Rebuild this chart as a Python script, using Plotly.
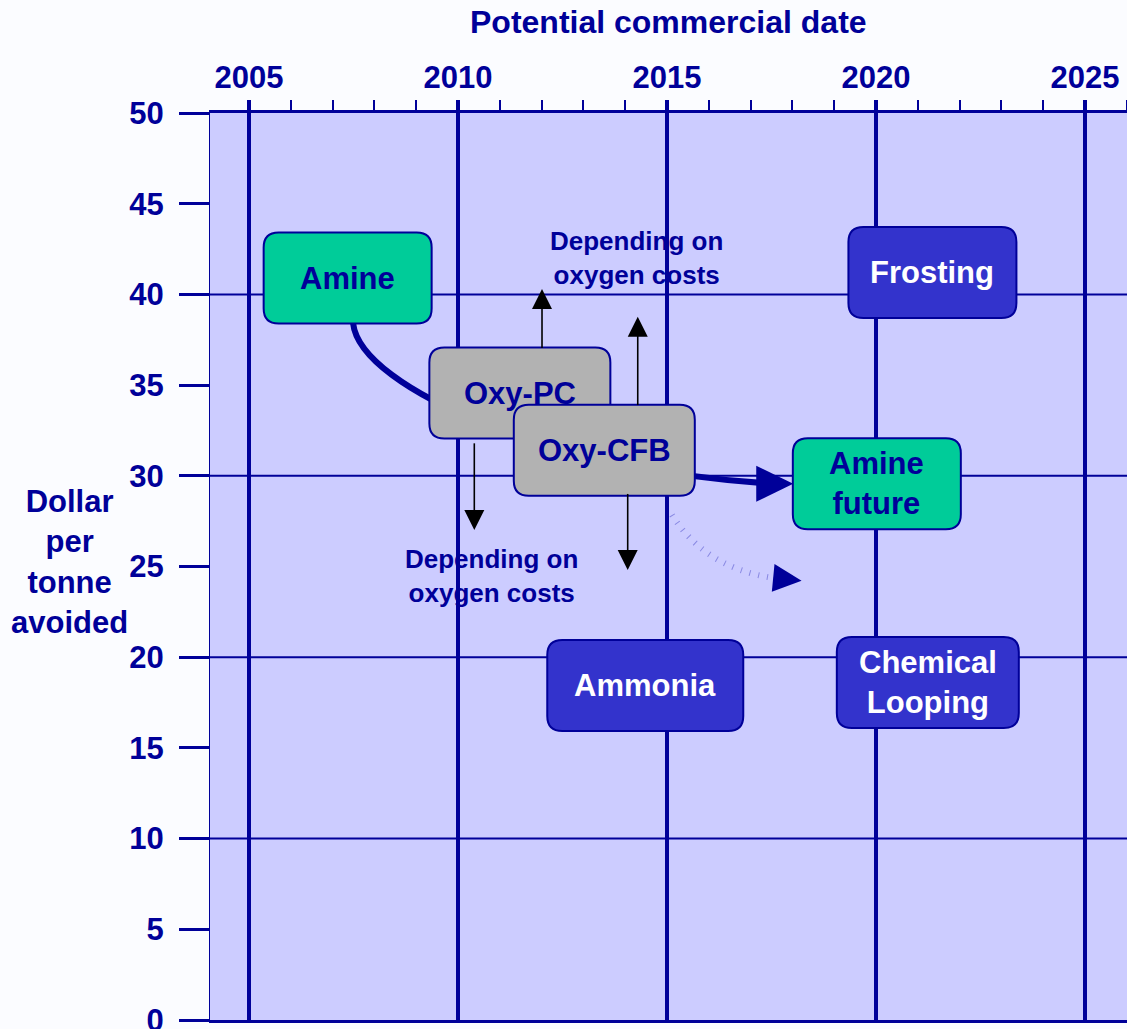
import math
import plotly.graph_objects as go

# ---------------------------------------------------------------- data
tech_labels = ["Amine", "Oxy-PC", "Oxy-CFB", "Amine<br>future",
               "Frosting", "Ammonia", "Chemical<br>Looping"]
tech_year = [2007.36, 2011.48, 2013.50, 2020.02, 2021.35, 2014.48, 2021.24]
tech_cost = [40.90, 34.56, 31.41, 29.56, 41.21, 18.44, 18.61]
tech_group = ["amine", "oxy", "oxy", "amine", "novel", "novel", "novel"]

# oxygen-price sensitivity of the oxy-fuel options (year, cost from -> cost to)
oxy_arrow_year = [2012.01, 2014.30, 2010.39, 2014.06]
oxy_arrow_from = [37.05, 33.90, 31.79, 29.00]
oxy_arrow_to = [40.30, 38.77, 27.01, 24.81]

oxy_note_text = "Depending on<br>oxygen costs"
oxy_note_year = [2014.27, 2010.79]
oxy_note_cost = [42.00, 24.45]

# expected cost path of amine scrubbing (cubic Bezier: start, c1, c2, end, tip)
amine_path_year = [2007.49, 2007.66, 2012.44, 2017.58, 2018.02]
amine_path_cost = [38.42, 34.73, 30.21, 29.56, 29.56]

# possible further reduction (quadratic Bezier: start, control, end, tip)
lower_path_year = [2015.12, 2015.91, 2017.54, 2018.22]
lower_path_cost = [27.84, 24.92, 24.37, 24.22]

x_tick_years = [2005, 2010, 2015, 2020, 2025]
y_tick_step = 5
y_grid_values = [10, 20, 30, 40]

# ---------------------------------------------------------------- style
NAVY = "#000099"
FONT = "Liberation Sans, Arial, sans-serif"
FILL = {"amine": "#00cc99", "oxy": "#b2b2b2", "novel": "#3333cc"}
TEXT = {"amine": NAVY, "oxy": NAVY, "novel": "#ffffff"}
BOX_W_PX = {"Amine": 168, "Oxy-PC": 181, "Oxy-CFB": 181, "Amine<br>future": 168,
            "Frosting": 168, "Ammonia": 196, "Chemical<br>Looping": 182}
BOX_H_PX = 91
CORNER_PX = 15

FIG_W, FIG_H = 1127, 1029
MARGIN = dict(l=210, r=0, t=113, b=9, pad=0, autoexpand=False)
X_RANGE = [2004.067, 2026.005]
Y_RANGE = [0, 50]
PX_PER_YEAR = (FIG_W - MARGIN["l"] - MARGIN["r"]) / (X_RANGE[1] - X_RANGE[0])
PX_PER_COST = (FIG_H - MARGIN["t"] - MARGIN["b"]) / (Y_RANGE[1] - Y_RANGE[0])


def px_to_year(px):
    return px / PX_PER_YEAR


def px_to_cost(px):
    return px / PX_PER_COST


def rounded_box(xc, yc, w_px, h_px, r_px):
    w, h = px_to_year(w_px), px_to_cost(h_px)
    rx, ry = px_to_year(r_px), px_to_cost(r_px)
    x0, x1 = xc - w / 2, xc + w / 2
    y0, y1 = yc - h / 2, yc + h / 2
    return (f"M{x0 + rx},{y0} L{x1 - rx},{y0} Q{x1},{y0} {x1},{y0 + ry} "
            f"L{x1},{y1 - ry} Q{x1},{y1} {x1 - rx},{y1} "
            f"L{x0 + rx},{y1} Q{x0},{y1} {x0},{y1 - ry} "
            f"L{x0},{y0 + ry} Q{x0},{y0} {x0 + rx},{y0} Z")


def head(base, tip, width_px):
    """Triangle arrowhead from a base point to a tip, in data units."""
    bx, by = base[0] * PX_PER_YEAR, base[1] * PX_PER_COST
    tx, ty = tip[0] * PX_PER_YEAR, tip[1] * PX_PER_COST
    dx, dy = tx - bx, ty - by
    n = math.hypot(dx, dy)
    nx, ny = -dy / n * width_px / 2, dx / n * width_px / 2
    p1 = ((bx + nx) / PX_PER_YEAR, (by + ny) / PX_PER_COST)
    p2 = ((bx - nx) / PX_PER_YEAR, (by - ny) / PX_PER_COST)
    return f"M{tip[0]},{tip[1]} L{p1[0]},{p1[1]} L{p2[0]},{p2[1]} Z"


def back_off(tail, tip, length_px):
    """Point lying length_px before the tip on the tail->tip segment."""
    dx = (tip[0] - tail[0]) * PX_PER_YEAR
    dy = (tip[1] - tail[1]) * PX_PER_COST
    n = math.hypot(dx, dy)
    return (tip[0] - dx / n * length_px / PX_PER_YEAR,
            tip[1] - dy / n * length_px / PX_PER_COST)


shapes = []

# horizontal grid every 10 $/t
for v in y_grid_values:
    shapes.append(dict(type="line", xref="paper", x0=0, x1=1, yref="y", y0=v, y1=v,
                       line=dict(color=NAVY, width=2), layer="below"))

# amine cost path (drawn beneath the boxes)
ax_, ay_ = amine_path_year, amine_path_cost
shapes.append(dict(
    type="path", xref="x", yref="y", layer="above",
    path=f"M{ax_[0]},{ay_[0]} C{ax_[1]},{ay_[1]} {ax_[2]},{ay_[2]} {ax_[3]},{ay_[3]}",
    line=dict(color=NAVY, width=6)))

# further-reduction path, faint dotted
lx, ly = lower_path_year, lower_path_cost
shapes.append(dict(
    type="path", xref="x", yref="y", layer="above",
    path=f"M{lx[0]},{ly[0]} Q{lx[1]},{ly[1]} {lx[2]},{ly[2]}",
    line=dict(color="rgba(70,70,200,0.5)", width=6, dash="1px,8px")))
shapes.append(dict(
    type="path", xref="x", yref="y", layer="above",
    path=head((lx[2], ly[2]), (lx[3], ly[3]), 28),
    fillcolor=NAVY, line=dict(width=0)))

# technology boxes
for lab, x, y, g in zip(tech_labels, tech_year, tech_cost, tech_group):
    shapes.append(dict(
        type="path", xref="x", yref="y", layer="above",
        path=rounded_box(x, y, BOX_W_PX[lab], BOX_H_PX, CORNER_PX),
        fillcolor=FILL[g], line=dict(color=NAVY, width=2)))

# arrowhead into "Amine future"
base = (ax_[4] - px_to_year(37), ay_[4])
shapes.append(dict(
    type="path", xref="x", yref="y", layer="above",
    path=head(base, (ax_[4], ay_[4]), 36),
    fillcolor=NAVY, line=dict(width=0)))

# oxygen-cost sensitivity arrows
for x, c0, c1 in zip(oxy_arrow_year, oxy_arrow_from, oxy_arrow_to):
    b = back_off((x, c0), (x, c1), 18)
    shapes.append(dict(type="line", xref="x", yref="y", layer="above",
                       x0=x, y0=c0, x1=b[0], y1=b[1],
                       line=dict(color="#000000", width=1.6)))
    hb = back_off((x, c0), (x, c1), 20)
    shapes.append(dict(type="path", xref="x", yref="y", layer="above",
                       path=head(hb, (x, c1), 20),
                       fillcolor="#000000", line=dict(width=0)))

annotations = []
for lab, x, y, g in zip(tech_labels, tech_year, tech_cost, tech_group):
    annotations.append(dict(
        x=x, y=y, xref="x", yref="y", text=lab, showarrow=False,
        font=dict(family=FONT, size=31, color=TEXT[g], weight="bold"),
        xanchor="center", yanchor="middle"))

for x, y in zip(oxy_note_year, oxy_note_cost):
    annotations.append(dict(
        x=x, y=y, xref="x", yref="y", text=oxy_note_text, showarrow=False,
        font=dict(family=FONT, size=26, color=NAVY, weight="bold"),
        xanchor="center", yanchor="middle"))

annotations.append(dict(
    x=0.5, y=1.1003, xref="paper", yref="paper",
    text="Potential commercial date", showarrow=False,
    font=dict(family=FONT, size=32, color=NAVY, weight="bold"),
    xanchor="center", yanchor="middle"))

annotations.append(dict(
    x=-0.1527, y=0.505, xref="paper", yref="paper",
    text="Dollar<br>per<br>tonne<br>avoided", showarrow=False,
    font=dict(family=FONT, size=31, color=NAVY, weight="bold"),
    xanchor="center", yanchor="middle"))

fig = go.Figure()
# invisible anchor trace so both axes are laid out
fig.add_trace(go.Scatter(x=tech_year, y=tech_cost, mode="markers",
                         marker=dict(opacity=0), hoverinfo="skip",
                         showlegend=False))

fig.update_layout(
    width=FIG_W, height=FIG_H, margin=MARGIN,
    paper_bgcolor="#fbfcff", plot_bgcolor="#ccccff",
    shapes=shapes, annotations=annotations, showlegend=False,
    xaxis=dict(
        range=X_RANGE, side="top", tickmode="array", tickvals=x_tick_years,
        ticks="outside", ticklen=10, tickwidth=4, tickcolor=NAVY,
        showgrid=True, gridcolor=NAVY, gridwidth=4, zeroline=False,
        showline=True, linecolor=NAVY, linewidth=3, mirror=True,
        automargin=False,
        tickfont=dict(family=FONT, size=31, color=NAVY, weight="bold"),
        minor=dict(dtick=1, tick0=2005, ticks="outside", ticklen=10,
                   tickwidth=2, tickcolor=NAVY, showgrid=False),
        fixedrange=True),
    yaxis=dict(
        range=Y_RANGE, tickmode="linear", tick0=0, dtick=y_tick_step,
        ticks="outside", ticklen=30, tickwidth=3, tickcolor=NAVY,
        showgrid=False, zeroline=False, ticklabeloverflow="allow",
        ticklabelstandoff=9, automargin=False,
        showline=True, linecolor=NAVY, linewidth=1,
        tickfont=dict(family=FONT, size=31, color=NAVY, weight="bold"),
        fixedrange=True),
)

fig.write_html("out.html")
